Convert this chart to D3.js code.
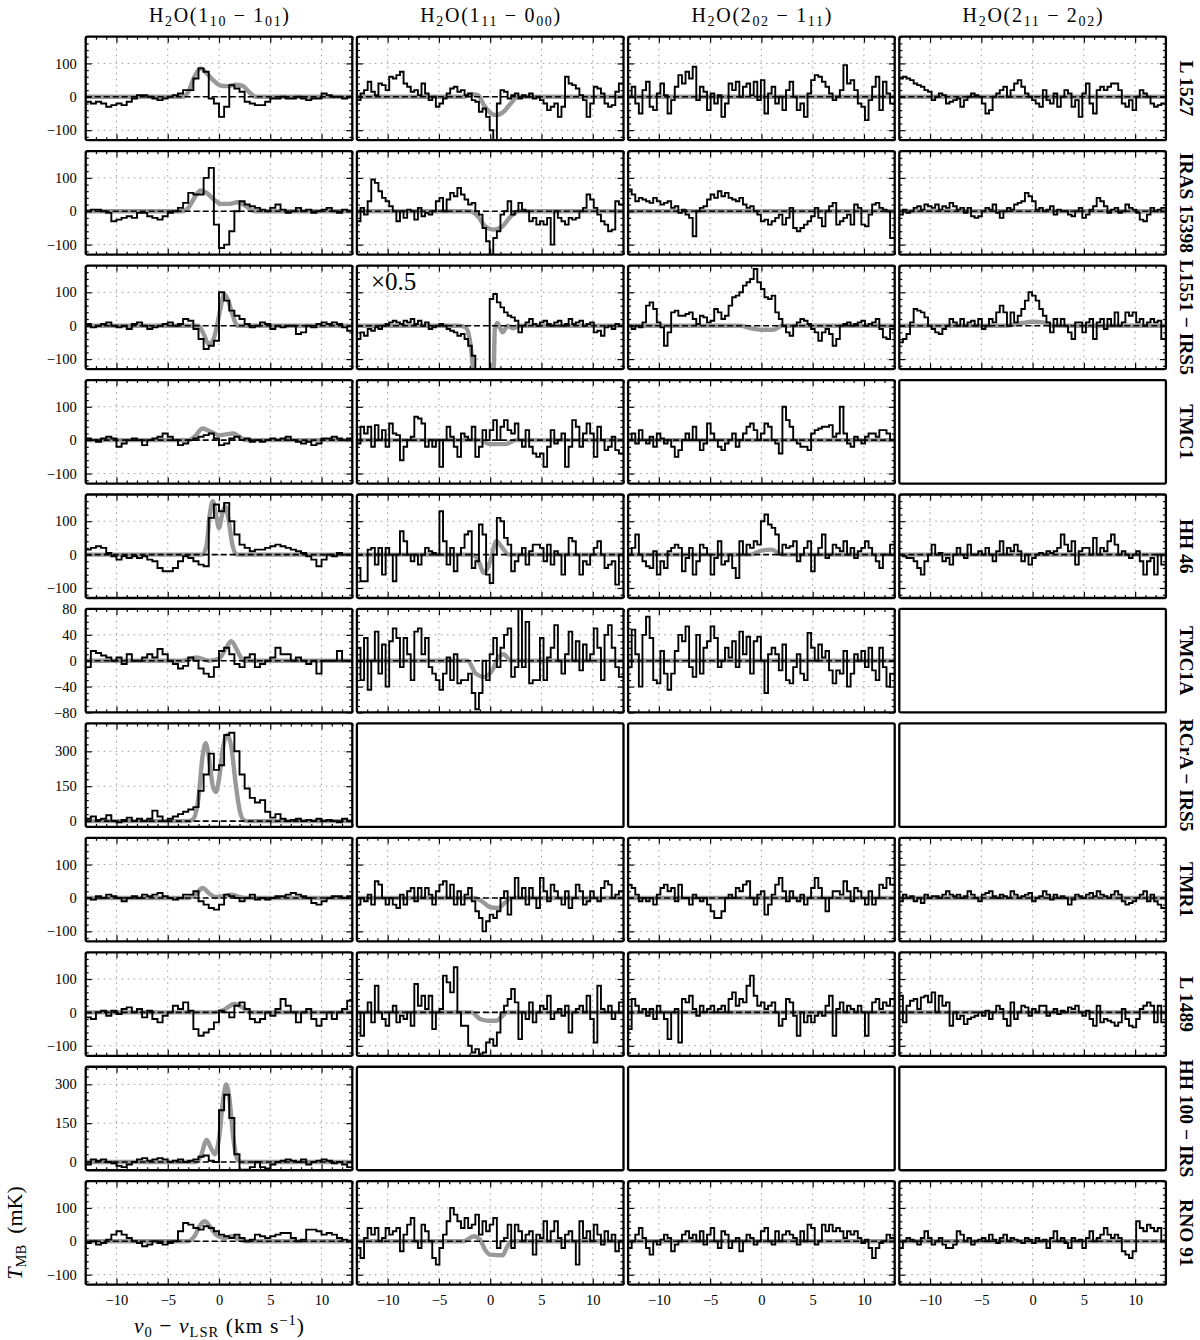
<!DOCTYPE html>
<html><head><meta charset="utf-8">
<script src="https://cdn.jsdelivr.net/npm/d3@7"></script>
<style>
body{margin:0;background:#fff}
svg{display:block}
text{font-family:"Liberation Serif","DejaVu Serif",serif;fill:#000}
</style>
</head><body>
<svg id="chart" width="1200" height="1340"></svg>
<script>
// ---------- categories / labels ----------
const lineTitles = [
  ["H","_2","O(1","_10"," − 1","_01",")"],
  ["H","_2","O(1","_11"," − 0","_00",")"],
  ["H","_2","O(2","_02"," − 1","_11",")"],
  ["H","_2","O(2","_11"," − 2","_02",")"]
];
const sources = ["L 1527","IRAS 15398","L1551 − IRS5","TMC1","HH 46","TMC1A","RCrA − IRS5","TMR1","L 1489","HH 100 − IRS","RNO 91"];
const velRange = [-13, 13];
const velTicks = [-10, -5, 0, 5, 10];
const chanWidth = [0.5, 0.35, 0.35, 0.35];
const rowDomains = [[-130,180],[-130,180],[-130,180],[-130,180],[-130,180],[-80,80],[-25,420],[-130,180],[-130,180],[-32,368],[-130,180]];
const rowTicks = [[-100,0,100],[-100,0,100],[-100,0,100],[-100,0,100],[-100,0,100],[-80,-40,0,40,80],[0,150,300],[-100,0,100],[-100,0,100],[0,150,300],[-100,0,100]];
const rowMinor = [20,20,20,20,20,10,30,20,20,30,20];

// ---------- spectra (mK) ----------
const L1527_a = [-15,-20,-15,-20,-30,-25,-20,-25,-15,-5, 5,5,0,-5,-10,-5,0,5,10,20, 20,55,85,75,-5,-20,-60,-30,35,25, 15,-15,-20,-25,-25,-15,-5,-5,0,-5, -5,0,-5,-10,-5,-5,10,5,0,0, -5,0];
const L1527_b = [-10,10,20,45,15,5,40,35,20,60, 55,65,75,40,30,15,20,5,40,10, -10,0,-30,-20,-5,10,25,30,15,20, 5,10,-10,-15,-45,-35,-60,-100,-130,-20, 20,15,-5,5,10,-5,5,0,10,-5, 0,-10,-20,-40,-30,-20,-60,-30,60,40, 35,25,5,-10,-60,-20,30,25,10,-20, -30,-25,15,40];
const L1527_c = [0,30,-20,-50,20,45,-30,-40,10,40, 5,-50,-10,30,65,40,75,55,90,-10, 30,15,-40,10,-20,5,-60,-20,40,20, 45,0,30,40,5,45,-10,50,-50,10, 30,-20,0,-40,20,45,0,-40,-20,-60, 10,50,65,60,45,30,10,-10,0,20, 95,40,50,20,-20,-30,-70,-10,30,60, -40,45,10,-20];
const L1527_d = [55,60,55,50,40,35,30,20,15,-10, 0,10,5,-20,-15,-10,-5,-30,-10,0, 10,5,0,-20,-50,-40,0,10,20,30, 0,20,40,50,30,10,0,-10,-20,-30, 20,-10,-20,10,-30,0,20,10,-30,-10, -60,10,40,-20,-50,20,30,20,30,40, 40,20,-20,-30,-10,-40,0,20,10,0, -20,-30,-25,-20];

const IRAS15398_a = [0,5,5,0,-5,-30,-25,-20,-15,-20, -5,-5,-15,-20,-25,-15,-5,0,10,25, 55,50,50,100,130,-40,-110,-100,-60,0, 30,20,15,10,5,0,10,20,5,-5, 0,10,0,5,-5,0,5,10,0,-5, 5,0];
const IRAS15398_b = [-30,10,-10,30,95,85,60,40,30,15, 0,-30,0,-20,5,0,-25,10,-15,-5, -10,0,30,40,0,35,55,45,70,50, 35,20,25,0,-10,-50,-90,-130,-80,-60, -10,0,30,-10,0,25,5,0,-30,-20, -40,-30,-40,-20,-100,0,-20,-30,-40,-20, -25,-20,0,10,50,35,10,-10,-30,-40, -60,-55,30,20];
const IRAS15398_c = [65,50,30,40,35,30,25,40,30,20, 25,30,10,15,-5,5,-10,-20,-75,0, 10,15,35,50,40,60,45,55,40,35, 30,40,20,10,15,0,-10,-30,-25,-40, -30,-20,-10,-40,-20,10,-50,-60,-50,-40, -30,-15,10,-20,-45,0,15,25,-40,-30, -20,-10,-40,20,10,-40,-45,-10,20,25, 10,5,0,-80];
const IRAS15398_d = [-10,5,-5,0,10,15,5,20,15,10, 20,5,15,10,25,15,5,10,-5,10, -15,-20,-15,0,10,5,20,-5,-20,0, 10,5,20,25,30,55,45,30,5,10, 0,5,15,-10,5,0,0,-10,-15,0, 10,-20,-10,5,15,40,30,15,-5,5, 10,-5,0,20,10,5,-5,-25,-30,-10, 10,0,5,10];

const L1551_a = [5,-5,0,5,10,0,-5,0,-10,5, 10,0,-10,-5,0,5,10,0,5,20, 15,-10,-40,-70,-60,-45,100,75,45,30, 20,5,-5,0,10,5,-10,0,-5,0, 0,-25,-20,0,-5,5,10,5,10,5, -5,-15];
const L1551_b = [-40,-20,-30,-10,-15,-5,-10,0,5,10, 15,10,5,15,10,20,5,15,0,10, -10,-5,0,5,0,-10,-15,-20,-30,-25, -40,-60,-90,-140,-140,-140,-140,80,95,70, 55,40,30,25,15,-20,0,10,20,5, 0,10,15,5,0,10,15,0,5,20, 5,10,15,0,5,10,-20,-15,-30,-5, 0,-10,5,0];
const L1551_c = [0,-10,0,-5,10,60,70,50,10,-5, -60,-20,40,45,30,30,35,40,20,5, 30,25,10,15,50,40,20,30,60,85, 90,100,120,130,140,170,130,110,85,80, 90,40,20,0,-20,-30,0,10,20,15, 5,-10,-20,-45,-20,-10,-25,-60,-40,0, 5,10,0,5,10,15,0,5,10,20, -10,-35,-40,-10];
const L1551_d = [-50,-40,-25,10,50,45,40,25,0,-10, -20,-25,-10,0,20,10,0,20,0,10, 15,0,20,-10,0,20,10,40,60,40, 0,40,10,30,50,75,100,90,75,50, 30,10,-20,20,0,20,0,-20,-40,10, 10,-20,10,20,-40,10,20,-10,20,0, 40,0,10,40,30,40,10,20,0,10, 20,10,15,-40];

const TMC1_a = [5,0,-5,5,10,5,-20,-10,0,5, 0,-15,0,5,10,20,10,0,-15,-10, 0,5,10,15,20,5,-15,-10,5,10, 0,5,-5,0,-5,0,5,0,5,10, 0,-5,-10,-5,-15,-10,5,5,10,5, 0,5];
const TMC1_b = [-10,40,20,40,-20,45,0,30,-20,50, 20,15,-60,-20,0,10,70,65,50,-20, 0,-20,0,-80,0,40,10,-20,-50,20, 10,0,40,-50,-20,30,0,30,60,0, 40,60,30,20,50,0,-20,30,-20,-40, -50,-40,-80,-20,30,-10,0,20,-80,-20, 60,40,-20,20,50,20,-50,40,0,-30, -20,10,-30,-40];
const TMC1_c = [0,20,-10,30,0,-10,10,-20,20,5, -10,0,-20,-50,-30,0,20,0,40,0, -30,-10,50,20,0,-20,-30,-10,0,20, -20,0,20,40,50,30,0,20,50,40, 0,-10,-40,100,60,40,0,-10,-20,-20, -30,20,30,35,40,40,45,10,20,100, 20,-10,-20,10,0,-10,10,20,20,10, 30,30,20,0];

const HH46_a = [15,20,25,20,5,-5,-15,-5,-10,-5, -10,-5,-15,-20,-40,-50,-50,-40,-20,-5, -10,-20,-30,-35,110,150,130,155,100,60, 30,20,10,15,15,20,25,30,25,20, 15,10,5,-5,-15,-35,-15,0,-5,5, 0,0];
const HH46_b = [-40,-80,-80,15,20,-30,20,-60,20,0, -80,0,70,40,0,-20,0,-30,0,20, 10,5,0,130,40,-30,20,-50,0,20, 60,70,-40,-20,90,60,-60,-85,0,110, 100,50,30,-50,-20,0,20,-30,10,30, 30,20,-20,30,-30,10,0,-60,0,50, 40,0,-60,-20,-30,0,20,40,0,-40, -30,-20,-90,0];
const HH46_c = [0,20,60,0,-20,-35,-40,10,-60,-20, -40,10,20,30,20,-50,-10,20,-60,-20, 30,20,0,-60,-10,40,-30,-20,0,-40, -70,40,0,30,20,40,30,100,120,90, 80,60,0,30,20,25,40,-20,0,20, 40,-50,0,20,60,-10,0,30,20,10, 40,0,20,-10,10,20,40,20,0,-20, -40,0,0,30];
const HH46_d = [0,-5,-10,-10,-20,-40,-60,-20,0,30, 0,5,-20,-10,-30,0,20,0,-10,30, 0,0,10,0,20,0,-20,10,40,0, 20,10,30,10,-20,0,-30,-10,0,5, 0,10,5,10,20,60,30,10,40,-30, 10,20,20,0,50,0,20,10,40,60, 30,0,10,0,-10,0,10,-20,-60,-20, -10,-60,0,-30];

const TMC1A_a = [-10,15,12,8,5,0,5,-5,10,0, 0,5,10,5,18,10,0,-5,-12,-8, 5,0,-12,-20,-25,-10,15,20,10,-5, -10,5,10,-10,-5,0,5,20,10,10, 0,5,0,-5,0,-20,0,0,0,15, 0,0];
const TMC1A_b = [20,-30,35,-45,0,45,-20,25,-40,30, 50,35,-10,35,10,-30,45,50,10,35, -10,-20,-30,-45,-20,5,-30,10,-35,-30, -30,-20,-50,-75,-50,0,-30,10,35,-10, 20,40,50,-25,-10,80,-10,60,-35,-30, -30,35,-30,5,20,55,0,-20,10,45, 0,30,-15,25,0,10,50,20,-30,40, 55,20,-10,-25];
const TMC1A_c = [-10,48,10,-40,40,68,35,-30,-35,15, -20,-45,-20,15,40,30,53,-10,-25,40, -20,20,30,53,35,-10,0,20,5,30, -10,45,10,37,-20,30,37,0,-50,10, 20,10,-15,25,-30,-35,-10,10,-20,-30, 43,20,0,25,5,15,-15,-35,-15,-20, 15,-40,-20,10,0,15,-10,20,-15,-30, 20,-10,-40,-20];

const RCrA_a = [10,20,5,10,25,0,-5,5,15,0, 10,0,10,45,20,0,10,20,30,40, 50,60,130,200,290,220,240,370,380,300, 200,140,100,80,90,40,15,30,10,0, 5,10,0,5,0,10,0,5,0,-5, 10,0];

const TMR1_a = [0,-5,5,0,10,5,0,-10,0,5, 0,10,5,10,15,5,0,-5,0,10, 10,20,-10,-20,-30,-35,-20,10,5,0, -10,0,10,-5,0,-5,0,5,5,10, 15,10,5,0,-15,-20,-10,0,5,5, 0,5];
const TMR1_b = [-20,0,-10,10,-20,50,40,0,-20,0, -20,-30,10,-20,20,30,-10,30,0,30, 10,-20,20,40,50,0,40,-20,20,-20, 10,30,-10,-40,-60,-100,-70,-50,-60,-40, 0,20,-50,0,60,0,30,-20,30,0, -30,60,20,-10,40,20,0,-20,20,-30, 0,40,20,-20,-10,20,0,-10,30,50, 40,0,10,20];
const TMR1_c = [40,30,10,-10,0,-10,0,-20,10,30, 40,20,30,-10,40,0,0,-20,10,0, -10,0,-20,-40,-60,-60,-40,0,10,0, 30,20,40,50,0,-20,10,20,-50,-20, 10,40,60,20,-10,20,0,-10,10,-20, 0,30,60,30,0,-40,0,20,20,10, 50,20,-10,30,20,0,-20,20,-20,0, 40,30,60,40];
const TMR1_d = [-10,10,0,5,-10,0,-15,10,0,5, 5,0,10,20,10,5,10,0,5,20, 10,0,-10,10,15,20,5,0,10,5, 0,20,10,0,5,10,15,-10,0,5, 20,10,-5,10,0,5,0,-20,-5,10, 5,0,10,15,5,20,10,5,0,10, 20,10,-10,-20,-15,-10,0,10,20,-10, 10,-10,-20,-30];

const L1489_a = [-15,-20,0,5,-10,5,-5,10,15,0, 10,-15,5,-20,-30,-10,0,20,10,30, 5,-50,-70,-60,-50,-30,5,0,-15,20, 30,10,-20,-30,-20,0,-10,10,40,20, 0,-30,0,10,-20,-40,-20,0,-20,0, 10,35];
const L1489_b = [0,-70,0,30,-30,80,0,-20,-40,0, 20,-30,-10,-20,0,-40,85,20,50,10, 50,-50,0,10,110,90,60,135,0,-40, -40,-100,-120,-110,-130,-120,-90,-80,-100,-60, 0,20,40,70,30,-80,0,-20,30,-30, 0,20,10,50,-20,0,10,-10,20,-60, 0,10,20,0,50,-20,-90,80,10,0, 20,-20,0,30];
const L1489_c = [-50,40,20,0,10,-10,10,-20,20,0, -20,-80,0,10,-90,40,30,50,10,-10, 20,0,10,20,0,10,20,0,40,60, 20,40,30,80,110,50,20,30,10,20, 30,0,-40,-20,40,30,-10,-70,0,-30, -10,-30,-10,0,-10,20,50,-70,10,30, 0,20,10,0,20,0,-70,0,30,40, 10,30,20,40];
const L1489_d = [50,-30,20,35,40,10,45,50,30,60, 0,50,20,30,-40,0,-20,-10,-35,-20, -15,-10,0,-10,5,-20,0,20,10,-20, -40,30,-20,0,20,15,-10,10,0,20, 20,-10,0,10,-5,5,0,15,10,20, 0,-10,5,-20,-40,20,-30,-20,-25,-30, -40,-30,10,-20,-40,-45,-20,10,20,30, 20,-30,20,-30];

const HH100_a = [-10,10,5,10,0,-5,-15,-20,-10,0, 10,15,5,10,15,10,0,5,10,0, 5,10,20,25,5,0,200,260,170,30, -30,-30,-20,0,-20,-25,-10,0,5,10, 5,0,10,-10,0,5,10,5,-5,0, -10,-20];

const RNO91_a = [-5,0,-10,-5,5,20,30,20,10,0, -5,-15,-10,0,-5,-10,-5,0,30,55, 50,40,35,45,40,30,20,15,10,20, 10,0,5,20,15,10,15,20,25,25, 10,0,5,35,35,30,20,25,20,10, 5,0];
const RNO91_b = [-20,-50,10,40,20,40,0,10,40,20, 30,40,-30,20,50,70,0,-20,50,30, 0,-50,-70,-20,20,60,100,80,60,40, 70,40,50,80,20,60,30,50,70,-20, 0,10,50,-20,50,30,0,20,30,-40, 20,10,60,0,30,60,10,-20,20,30, 0,-70,60,10,30,0,50,20,-10,30, 0,20,-30,0];
const RNO91_c = [-20,0,20,40,10,-20,-40,0,-10,5, 20,10,-30,-10,0,20,30,10,20,0, 30,-10,20,40,0,-20,30,20,-20,0, 10,-30,0,20,10,-10,0,30,40,0, -10,30,0,20,30,20,10,-10,30,0, 50,40,-10,0,50,30,50,30,40,30, 10,30,20,30,10,-5,5,-20,-50,-20, -5,0,20,10];
const RNO91_d = [-20,0,10,5,0,-10,10,30,10,-10, 0,10,-10,-20,-20,-10,30,20,0,10, -10,0,5,10,0,20,5,-5,10,20, 0,10,5,0,-5,10,5,-5,10,0, 5,-20,10,30,0,10,-5,-20,10,0, 5,-20,10,30,0,10,20,40,20,10, 20,10,-30,-40,-50,-30,60,40,30,50, 40,30,40,0];

// ---------- model fits (velocity, mK) ----------
const flatFit = [[-13,0],[13,0]];
const L1527_a_fit = [[-13,0],[-3.6,0],[-3,15],[-2.4,60],[-1.8,85],[-1.2,70],[-0.5,48],[0.2,33],[0.9,32],[1.6,36],[2.3,33],[3,12],[3.6,0],[13,0]];
const L1527_b_fit = [[-13,0],[-2.6,0],[-1.8,8],[-1.2,5],[-0.6,-25],[0,-48],[0.6,-55],[1.3,-45],[2,-20],[2.7,0],[13,0]];
const IRAS15398_a_fit = [[-13,0],[-3.6,0],[-3,10],[-2.4,40],[-1.8,62],[-1.2,55],[-0.5,35],[0.2,22],[1,22],[1.8,27],[2.5,18],[3.2,3],[3.6,0],[13,0]];
const IRAS15398_b_fit = [[-13,0],[-2,0],[-1.2,-15],[-0.5,-45],[0.3,-55],[1.2,-45],[2,-15],[2.8,0],[13,0]];
const L1551_a_fit = [[-13,0],[-2,0],[-1.5,-25],[-1,-55],[-0.6,-45],[-0.2,0],[0.2,60],[0.5,95],[0.9,75],[1.3,35],[1.8,0],[13,0]];
const L1551_b_fit = [[-13,0],[-3,0],[-2.4,-5],[-2,-40],[-1.7,-130],[-1.5,-260],[0.2,-260],[0.35,-130],[0.45,-10],[0.7,8],[1.2,-20],[1.7,0],[2.2,-8],[2.8,0],[13,0]];
const L1551_c_fit = [[-13,0],[-2,0],[-1,-8],[0,-12],[1.2,-12],[2,0],[13,0]];
const L1551_d_fit = [[-13,0],[-2.5,0],[-1,8],[0,12],[1,10],[2,0],[13,0]];
const TMC1_a_fit = [[-13,0],[-3,0],[-2.4,10],[-1.6,35],[-0.8,25],[0,15],[0.8,18],[1.4,20],[2,10],[2.6,0],[13,0]];
const TMC1_b_fit = [[-13,0],[-1,0],[0,-12],[1.5,-12],[2.5,0],[13,0]];
const HH46_a_fit = [[-13,0],[-1.6,0],[-1.2,30],[-0.9,120],[-0.6,160],[-0.3,120],[0,80],[0.3,120],[0.6,145],[0.9,110],[1.3,30],[1.7,0],[13,0]];
const HH46_b_fit = [[-13,0],[-1.8,0],[-1.2,-15],[-0.6,-55],[0,-20],[0.6,40],[1.2,20],[1.8,0],[13,0]];
const HH46_c_fit = [[-13,0],[-1,0],[0,12],[1,15],[2,0],[13,0]];
const TMC1A_a_fit = [[-13,0],[-3.5,0],[-2.2,5],[-1,0],[0,3],[0.7,20],[1.2,30],[1.8,15],[2.4,0],[13,0]];
const TMC1A_b_fit = [[-13,0],[-2.2,0],[-1.4,-20],[-0.6,-25],[0.2,-15],[0.8,5],[1.3,10],[2,0],[13,0]];
const RCrA_a_fit = [[-13,0],[-3,0],[-2.5,10],[-2,100],[-1.6,280],[-1.3,335],[-1,280],[-0.6,150],[-0.3,125],[0,180],[0.4,320],[0.8,370],[1.2,320],[1.6,170],[2,50],[2.4,5],[2.8,0],[13,0]];
const TMR1_a_fit = [[-13,0],[-3,0],[-2.3,10],[-1.6,30],[-1,15],[-0.4,3],[0.4,5],[1.2,10],[2,3],[2.6,0],[13,0]];
const TMR1_b_fit = [[-13,0],[-1.5,0],[-0.8,-10],[0,-28],[0.8,-30],[1.4,-15],[2,0],[13,0]];
const L1489_a_fit = [[-13,0],[-0.5,0],[0.5,8],[1.5,25],[2.3,15],[3,0],[13,0]];
const L1489_b_fit = [[-13,0],[-1.8,0],[-1,-20],[-0.2,-25],[0.6,-25],[1.2,-10],[1.6,0],[13,0]];
const HH100_a_fit = [[-13,0],[-2.3,0],[-1.8,20],[-1.2,85],[-0.8,55],[-0.4,30],[0,90],[0.4,240],[0.7,300],[1,250],[1.4,90],[1.8,10],[2.2,0],[13,0]];
const RNO91_a_fit = [[-13,0],[-3,0],[-2.4,15],[-1.8,50],[-1.4,60],[-0.9,45],[-0.3,20],[0.5,10],[1.3,15],[2,5],[2.6,0],[13,0]];
const RNO91_b_fit = [[-13,0],[-2.6,0],[-1.6,15],[-1,5],[-0.5,-25],[0,-40],[1.2,-42],[1.6,-20],[2,0],[13,0]];

// ---------- table built from the arrays ----------
const spectra = [
  [L1527_a, L1527_b, L1527_c, L1527_d],
  [IRAS15398_a, IRAS15398_b, IRAS15398_c, IRAS15398_d],
  [L1551_a, L1551_b, L1551_c, L1551_d],
  [TMC1_a, TMC1_b, TMC1_c, null],
  [HH46_a, HH46_b, HH46_c, HH46_d],
  [TMC1A_a, TMC1A_b, TMC1A_c, null],
  [RCrA_a, null, null, null],
  [TMR1_a, TMR1_b, TMR1_c, TMR1_d],
  [L1489_a, L1489_b, L1489_c, L1489_d],
  [HH100_a, null, null, null],
  [RNO91_a, RNO91_b, RNO91_c, RNO91_d]
];
const fits = [
  [L1527_a_fit, L1527_b_fit, flatFit, flatFit],
  [IRAS15398_a_fit, IRAS15398_b_fit, flatFit, flatFit],
  [L1551_a_fit, L1551_b_fit, L1551_c_fit, L1551_d_fit],
  [TMC1_a_fit, TMC1_b_fit, flatFit, null],
  [HH46_a_fit, HH46_b_fit, HH46_c_fit, flatFit],
  [TMC1A_a_fit, TMC1A_b_fit, flatFit, null],
  [RCrA_a_fit, null, null, null],
  [TMR1_a_fit, TMR1_b_fit, flatFit, flatFit],
  [L1489_a_fit, L1489_b_fit, flatFit, flatFit],
  [HH100_a_fit, null, null, null],
  [RNO91_a_fit, RNO91_b_fit, flatFit, flatFit]
];

// ---------- layout ----------
const svg = d3.select("#chart");
const PW = 266.6, PH = 103.5;
const colLeft = c => 85.7 + c * 271.2;
const rowTop = r => 36.7 + r * 114.45;
const SERIF = '"Liberation Serif","DejaVu Serif",serif';

const x = d3.scaleLinear().domain(velRange).range([0, PW]);
const xMinor = d3.range(-13, 14, 1).filter(v => !velTicks.includes(v));

function styleAxis(g) {
  g.select(".domain").remove();
  g.attr("font-family", SERIF).attr("font-size", 14.5);
  g.selectAll(".tick line").attr("stroke", "#000").attr("stroke-width", 1.2);
}

spectra.forEach((row, r) => {
  const y = d3.scaleLinear().domain(rowDomains[r]).range([PH, 0]);
  const yMaj = rowTicks[r];
  const st = rowMinor[r];
  const yMin = d3.range(Math.ceil(rowDomains[r][0] / st) * st, rowDomains[r][1] + 0.001, st).filter(v => !yMaj.includes(v));
  row.forEach((spec, c) => {
    const g = svg.append("g").attr("transform", `translate(${colLeft(c)},${rowTop(r)})`);
    if (spec) {
      const cid = `clip-${r}-${c}`;
      g.append("clipPath").attr("id", cid).append("rect").attr("width", PW).attr("height", PH);
      // grid
      g.append("g").selectAll("line").data(velTicks).join("line")
        .attr("x1", d => x(d)).attr("x2", d => x(d)).attr("y1", 0).attr("y2", PH)
        .attr("stroke", "#9a9a9a").attr("stroke-width", 1).attr("stroke-dasharray", "1.5,4.5");
      g.append("g").selectAll("line").data(yMaj).join("line")
        .attr("x1", 0).attr("x2", PW).attr("y1", d => y(d)).attr("y2", d => y(d))
        .attr("stroke", "#9a9a9a").attr("stroke-width", 1).attr("stroke-dasharray", "1.5,4.5");
      const body = g.append("g").attr("clip-path", `url(#${cid})`);
      // model fit
      const fit = fits[r][c];
      if (fit) {
        body.append("path").datum(fit)
          .attr("d", d3.line().x(d => x(d[0])).y(d => y(d[1])).curve(d3.curveMonotoneX))
          .attr("fill", "none").attr("stroke", "#999").attr("stroke-width", 4.4)
          .attr("stroke-linejoin", "round").attr("stroke-linecap", "round");
      }
      // baseline
      body.append("line").attr("x1", 0).attr("x2", PW).attr("y1", y(0)).attr("y2", y(0))
        .attr("stroke", "#000").attr("stroke-width", 1.6).attr("stroke-dasharray", "6,3");
      // spectrum
      const dv = chanWidth[c];
      const pts = spec.map((t, i) => [velRange[0] + i * dv, t]);
      pts.push([velRange[1], spec[spec.length - 1]]);
      body.append("path").datum(pts)
        .attr("d", d3.line().x(d => x(d[0])).y(d => y(d[1])).curve(d3.curveStepAfter))
        .attr("fill", "none").attr("stroke", "#000").attr("stroke-width", 1.9)
        .attr("stroke-linejoin", "miter");
      // axes (inward ticks on all four sides)
      const isBottom = (r === spectra.length - 1);
      g.append("g").attr("transform", `translate(0,${PH})`)
        .call(d3.axisBottom(x).tickValues(velTicks).tickSize(-6).tickPadding(10)
          .tickFormat(isBottom ? d3.format("d") : () => ""))
        .call(styleAxis);
      g.append("g").attr("transform", `translate(0,${PH})`)
        .call(d3.axisBottom(x).tickValues(xMinor).tickSize(-3).tickFormat(() => "")).call(styleAxis);
      g.append("g").call(d3.axisTop(x).tickValues(velTicks).tickSize(-6).tickFormat(() => "")).call(styleAxis);
      g.append("g").call(d3.axisTop(x).tickValues(xMinor).tickSize(-3).tickFormat(() => "")).call(styleAxis);
      g.append("g")
        .call(d3.axisLeft(y).tickValues(yMaj).tickSize(-6).tickPadding(9)
          .tickFormat(c === 0 ? d3.format("d") : () => ""))
        .call(styleAxis);
      g.append("g").call(d3.axisLeft(y).tickValues(yMin).tickSize(-3).tickFormat(() => "")).call(styleAxis);
      g.append("g").attr("transform", `translate(${PW},0)`)
        .call(d3.axisRight(y).tickValues(yMaj).tickSize(-6).tickFormat(() => "")).call(styleAxis);
      g.append("g").attr("transform", `translate(${PW},0)`)
        .call(d3.axisRight(y).tickValues(yMin).tickSize(-3).tickFormat(() => "")).call(styleAxis);
      g.selectAll(".tick text").attr("fill", "#000");
    }
    g.append("rect").attr("width", PW).attr("height", PH).attr("rx", 1.5)
      .attr("fill", "none").attr("stroke", "#000").attr("stroke-width", 2.3);
  });
});

// ---------- column titles ----------
lineTitles.forEach((parts, c) => {
  const t = svg.append("text").attr("x", colLeft(c) + PW / 2).attr("y", 22)
    .attr("text-anchor", "middle").attr("font-size", 20)
    .attr("textLength", 140).attr("lengthAdjust", "spacing");
  let low = false;
  parts.forEach(p => {
    const sub = p.startsWith("_");
    const ts = t.append("tspan").text(sub ? p.slice(1) : p);
    if (sub) { ts.attr("font-size", 14).attr("dy", low ? 0 : 3.5); low = true; }
    else { ts.attr("dy", low ? -3.5 : 0); low = false; }
  });
});

// ---------- row labels (source names) ----------
sources.forEach((s, r) => {
  svg.append("text")
    .attr("transform", `translate(1180,${rowTop(r) + PH / 2}) rotate(90)`)
    .attr("text-anchor", "middle").attr("font-size", 19.5).attr("font-weight", "bold")
    .text(s);
});

// ---------- x0.5 annotation ----------
svg.append("text").attr("x", colLeft(1) + 14).attr("y", rowTop(2) + 24)
  .attr("font-size", 25).text("×0.5");

// ---------- axis titles ----------
const yl = svg.append("text")
  .attr("transform", `translate(22,${rowTop(10) + PH / 2}) rotate(-90)`)
  .attr("text-anchor", "middle").attr("font-size", 22);
yl.append("tspan").attr("font-style", "italic").text("T");
yl.append("tspan").attr("font-size", 14.5).attr("dy", 4).text("MB");
yl.append("tspan").attr("dy", -4).text("\u2002(mK)");

const xl = svg.append("text").attr("x", colLeft(0) + PW / 2).attr("y", 1333)
  .attr("text-anchor", "middle").attr("font-size", 21.5)
  .attr("textLength", 170).attr("lengthAdjust", "spacing");
xl.append("tspan").attr("font-style", "italic").text("v");
xl.append("tspan").attr("font-size", 14.5).attr("dy", 4).text("0");
xl.append("tspan").attr("dy", -4).text(" − ");
xl.append("tspan").attr("font-style", "italic").text("v");
xl.append("tspan").attr("font-size", 14.5).attr("dy", 4).text("LSR");
xl.append("tspan").attr("dy", -4).text(" (km s");
xl.append("tspan").attr("font-size", 14.5).attr("dy", -8).text("−1");
xl.append("tspan").attr("dy", 8).text(")");
</script>
</body></html>
